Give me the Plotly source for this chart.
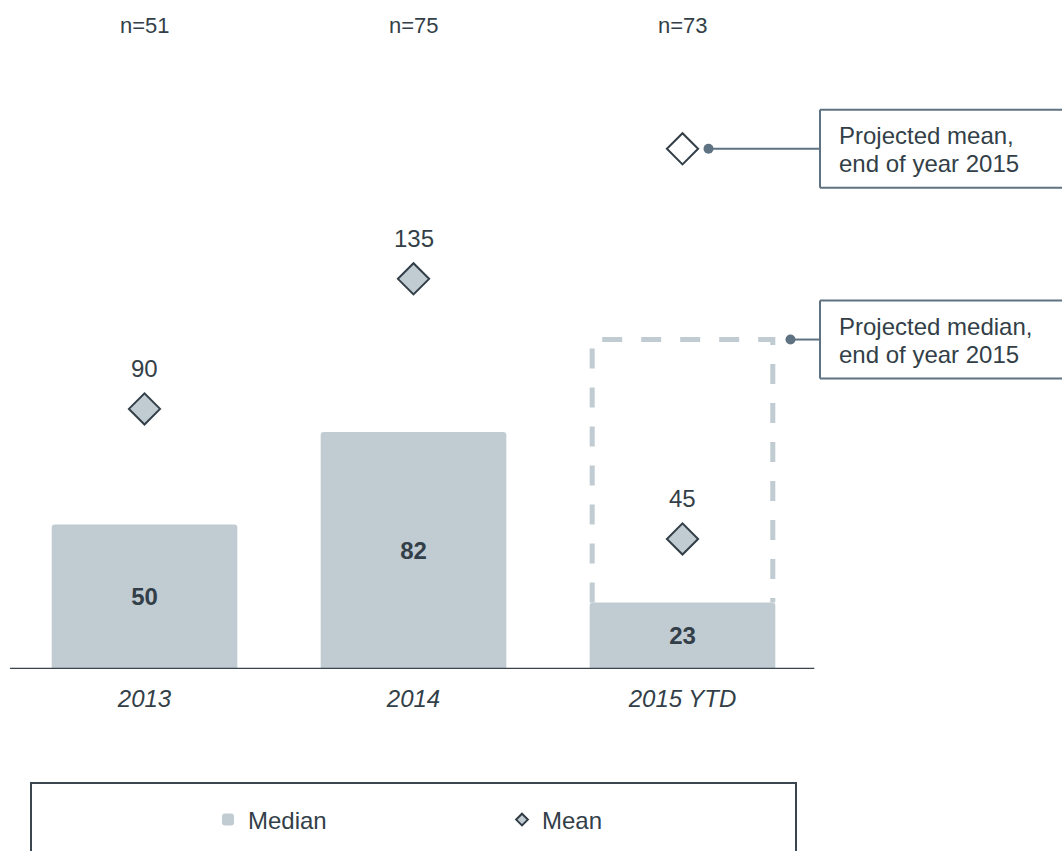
import plotly.graph_objects as go

# ---------------- data ----------------
categories = ["2013", "2014", "2015 YTD"]
sample_sizes = ["n=51", "n=75", "n=73"]
median_values = [50, 82, 23]
mean_values = [90, 135, 45]
projected_mean_2015 = 180
projected_median_2015 = 114
callout_lines = [["Projected mean,", "end of year 2015"],
                 ["Projected median,", "end of year 2015"]]

# ---------------- style ----------------
DARK = "#333F48"
GRAY = "#C1CBD2"
SLATE = "#5E7281"
FONT = "Liberation Sans, Arial, sans-serif"
FS = 24
FS_N = 22

W, H = 1062, 851
L, R, T, B = 10, 0, 40, 182
plot_w = W - L - R
plot_h = H - T - B
PX_PER_CAT = 269
PX_PER_UNIT = 2.89
x_range = [-0.5, -0.5 + plot_w / PX_PER_CAT]
y_range = [0, plot_h / PX_PER_UNIT]
BAR_W = 0.69
cat_idx = list(range(len(categories)))


def paper_x(px):
    return (px - L) / plot_w


def paper_y(py):
    return (H - B - py) / plot_h


fig = go.Figure()

fig.add_trace(go.Bar(
    x=categories, y=median_values, name="Median",
    width=BAR_W,
    marker=dict(color=GRAY, line=dict(width=0), cornerradius=3),
    text=[f"<b>{v}</b>" for v in median_values],
    textposition="inside", insidetextanchor="middle",
    textfont=dict(family=FONT, size=FS, color=DARK),
    constraintext="none",
    showlegend=True,
))

fig.add_trace(go.Scatter(
    x=categories, y=mean_values, mode="markers", name="Mean",
    marker=dict(symbol="diamond", size=24, color=GRAY,
                line=dict(color=DARK, width=2)),
    showlegend=False,
))

# legend key for the mean (smaller glyph as in the key)
fig.add_trace(go.Scatter(
    x=[None], y=[None], mode="markers", name="Mean",
    marker=dict(symbol="diamond", size=9, color=GRAY,
                line=dict(color=DARK, width=2)),
    showlegend=True,
))

# projected mean, end of 2015
fig.add_trace(go.Scatter(
    x=[categories[2]], y=[projected_mean_2015], mode="markers",
    name="Projected mean",
    marker=dict(symbol="diamond", size=24, color="white",
                line=dict(color=DARK, width=2)),
    showlegend=False,
))

shapes = []
annotations = []

# baseline
shapes.append(dict(type="line", xref="x", yref="y", x0=-0.5, x1=2.49,
                   y0=0, y1=0, line=dict(color="#3A4550", width=2.5),
                   layer="above"))

# dashed projected-median outline above the 2015 bar
inset = 2.5 / PX_PER_CAT
x0 = cat_idx[2] - BAR_W / 2 + inset
x1 = cat_idx[2] + BAR_W / 2 - inset
shapes.append(dict(
    type="path", xref="x", yref="y",
    path=(f"M{x0},{median_values[2]} L{x0},{projected_median_2015} "
          f"L{x1},{projected_median_2015} L{x1},{median_values[2]}"),
    line=dict(color=GRAY, width=5, dash="20px,19px"),
    layer="below",
))

# callouts (dot, leader line, box, text); pixel offsets from the 2015 category
BOX_LEFT = paper_x(820)
BOX_RIGHT = 1.2  # runs past the right edge of the page
callouts = [
    (projected_mean_2015, 26, callout_lines[0]),
    (projected_median_2015, 108, callout_lines[1]),
]
for yv, dot_off, lines in callouts:
    shapes.append(dict(type="line", xref="x", yref="y", xsizemode="pixel",
                       xanchor=cat_idx[2], x0=dot_off, x1=138, y0=yv, y1=yv,
                       line=dict(color=SLATE, width=2)))
    shapes.append(dict(type="circle", xref="x", yref="y",
                       xsizemode="pixel", ysizemode="pixel",
                       xanchor=cat_idx[2], yanchor=yv,
                       x0=dot_off - 5, x1=dot_off + 5, y0=-5, y1=5,
                       fillcolor=SLATE, line=dict(width=0)))
    for y0p, y1p, xa, xb in [(39, 39, BOX_LEFT, BOX_RIGHT),
                             (-39, -39, BOX_LEFT, BOX_RIGHT),
                             (-39, 39, BOX_LEFT, BOX_LEFT)]:
        shapes.append(dict(type="line", xref="paper", yref="y",
                           ysizemode="pixel", yanchor=yv,
                           x0=xa, x1=xb, y0=y0p, y1=y1p,
                           line=dict(color=SLATE, width=2)))
    for k, line_txt in enumerate(lines):
        annotations.append(dict(xref="x", yref="y", x=cat_idx[2], y=yv,
                                xshift=154, yshift=13 - 28 * k,
                                xanchor="left", yanchor="middle", align="left",
                                text=line_txt, showarrow=False,
                                font=dict(family=FONT, size=FS, color=DARK)))

# mean value labels
for i, v in zip(cat_idx, mean_values):
    annotations.append(dict(xref="x", yref="y", x=i, y=v, yshift=40,
                            text=str(v), showarrow=False,
                            xanchor="center", yanchor="middle",
                            font=dict(family=FONT, size=FS, color=DARK)))

# sample-size labels on top
for i, n in zip(cat_idx, sample_sizes):
    annotations.append(dict(xref="x", yref="paper", x=i, y=paper_y(25),
                            text=n, showarrow=False,
                            xanchor="center", yanchor="middle",
                            font=dict(family=FONT, size=FS_N, color=DARK)))

# legend frame
shapes.append(dict(type="rect", xref="paper", yref="paper",
                   x0=paper_x(31), x1=paper_x(796),
                   y0=paper_y(880), y1=paper_y(783),
                   line=dict(color="#3A4550", width=2),
                   fillcolor="rgba(0,0,0,0)"))

fig.update_layout(
    width=W, height=H,
    margin=dict(l=L, r=R, t=T, b=B),
    paper_bgcolor="white", plot_bgcolor="white",
    font=dict(family=FONT, size=FS, color=DARK),
    xaxis=dict(type="category", range=x_range, showgrid=False,
               zeroline=False, showline=False, ticks="",
               tickvals=categories, ticktext=categories,
               tickfont=dict(family=FONT, size=FS, color=DARK, style="italic"),
               ticklabelstandoff=13, fixedrange=True),
    yaxis=dict(range=y_range, visible=False, fixedrange=True),
    showlegend=True,
    legend=dict(orientation="h", x=paper_x(208), xanchor="left",
                y=paper_y(820), yanchor="middle",
                entrywidth=249, entrywidthmode="pixels",
                bgcolor="rgba(0,0,0,0)", borderwidth=0,
                font=dict(family=FONT, size=FS, color=DARK),
                traceorder="normal"),
    shapes=shapes,
    annotations=annotations,
    bargap=0.31,
)

fig.write_html(
    "out.html",
    config={"displayModeBar": False},
    post_script=("document.body.style.margin='0';"
                 "document.documentElement.style.overflow='hidden';"),
)
